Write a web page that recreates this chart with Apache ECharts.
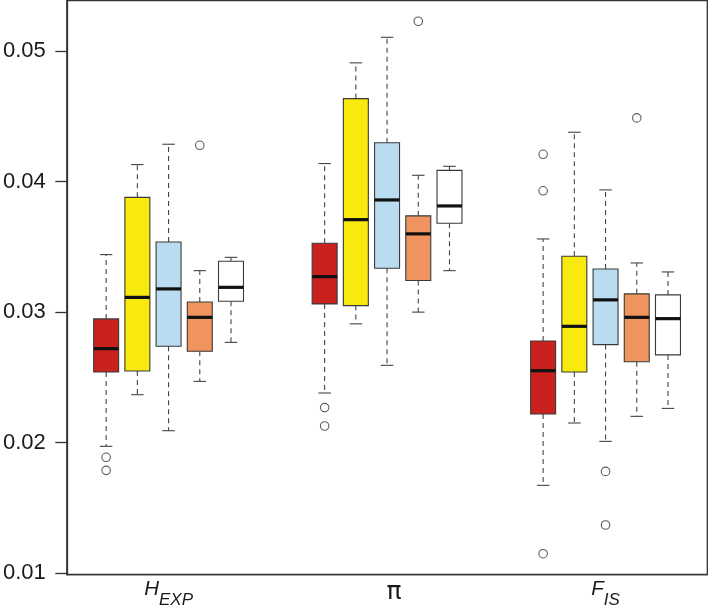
<!DOCTYPE html>
<html><head><meta charset="utf-8">
<script src="https://cdn.jsdelivr.net/npm/echarts@6/dist/echarts.min.js"></script>
<style>html,body{margin:0;padding:0;background:#fff}#c{width:709px;height:616px}</style>
</head><body><div id="c"></div>
<script>
// Group labels (main letter + subscript)
const groupMain = ['H', 'π', 'F'];
const groupSub = ['EXP', '', 'IS'];
// Five populations per group (box colours)
const boxColors = ['#C9211E', '#F8E90F', '#B9DCF0', '#F0945F', '#FFFFFF'];
// Stats per population: [lowerWhisker, Q1, median, Q3, upperWhisker]
const hexpStats = [
  [0.01971, 0.02541, 0.0272, 0.02948, 0.03441],
  [0.02367, 0.02549, 0.03113, 0.0388, 0.04131],
  [0.02091, 0.02738, 0.03178, 0.03538, 0.04287],
  [0.02469, 0.0270, 0.0296, 0.03078, 0.03318],
  [0.02768, 0.03083, 0.0319, 0.0339, 0.0342]
];
const piStats = [
  [0.0238, 0.03063, 0.03272, 0.03528, 0.04139],
  [0.0291, 0.0305, 0.03709, 0.04637, 0.04911],
  [0.02592, 0.03336, 0.0386, 0.04298, 0.05107],
  [0.0300, 0.03242, 0.0360, 0.03738, 0.04049],
  [0.03318, 0.03681, 0.03814, 0.04087, 0.04118]
];
const fisStats = [
  [0.01672, 0.02219, 0.02551, 0.02779, 0.03561],
  [0.0215, 0.02541, 0.02891, 0.03428, 0.04379],
  [0.02009, 0.02751, 0.03094, 0.03331, 0.03937],
  [0.02201, 0.0262, 0.0296, 0.0314, 0.03377],
  [0.02262, 0.02672, 0.0295, 0.03132, 0.03308]
];
// Outliers: [populationIndex, value]
const hexpOutliers = [[0, 0.01887], [0, 0.01787], [3, 0.04279]];
const piOutliers = [[0, 0.02268], [0, 0.02127], [3, 0.0523]];
const fisOutliers = [[0, 0.0421], [0, 0.0393], [0, 0.01148], [2, 0.01779], [2, 0.01368], [3, 0.04489]];
// Y tick labels
const yTicks = [0.01, 0.02, 0.03, 0.04, 0.05];

const allStats = [hexpStats, piStats, fisStats];
const allOutliers = [hexpOutliers, piOutliers, fisOutliers];
const groupCenters = [3, 10, 17];
const xMin = -0.26, xMax = 20.26;
const pos = (g, p) => 1 + g * 7 + p;

const boxData = [];
allStats.forEach((st, g) => st.forEach((s, p) => boxData.push([pos(g, p)].concat(s).concat([p]))));
const outData = [];
allOutliers.forEach((os, g) => os.forEach(o => outData.push([pos(g, o[0]), o[1]])));

const chart = echarts.init(document.getElementById('c'), null, {renderer: 'canvas'});
chart.setOption({
  animation: false,
  grid: {left: 66.5, right: 1.7, top: 0.5, bottom: 41.3, show: true, borderColor: '#333', borderWidth: 1.3},
  xAxis: {
    type: 'value', min: xMin, max: xMax,
    splitLine: {show: false},
    axisLine: {show: true, onZero: false, lineStyle: {color: '#333', width: 1.3}},
    axisTick: {show: false},
    axisLabel: {
      customValues: groupCenters,
      margin: 5,
      formatter: function (v) {
        const g = groupCenters.indexOf(v);
        if (g < 0) return '';
        if (g === 1) return '{pi|' + groupMain[g] + '}';
        return '{m|' + groupMain[g] + '}{s|' + groupSub[g] + '}';
      },
      rich: {
        m: {fontSize: 20.5, fontStyle: 'italic', fontFamily: 'Liberation Sans, Arial', color: '#1a1a1a', verticalAlign: 'top', lineHeight: 22},
        s: {fontSize: 17, fontStyle: 'italic', fontFamily: 'Liberation Sans, Arial', color: '#1a1a1a', verticalAlign: 'top', padding: [12, 0, 0, 0], lineHeight: 19},
        pi: {fontSize: 25, fontFamily: 'DejaVu Sans', color: '#1a1a1a', padding: [0, 0, 0, 14], lineHeight: 26, verticalAlign: 'top'}
      }
    }
  },
  yAxis: {
    type: 'value', min: 0.00987, max: 0.05389,
    splitLine: {show: false},
    axisLine: {show: true, onZero: false, lineStyle: {color: '#333', width: 1.3}},
    axisTick: {show: true, inside: false, customValues: yTicks, length: 11.5, lineStyle: {color: '#333', width: 1.3}},
    axisLabel: {
      customValues: yTicks, margin: 21,
      fontSize: 22, fontFamily: 'Liberation Sans, Arial', color: '#1a1a1a',
      formatter: v => v.toFixed(2)
    }
  },
  series: [
    {
      type: 'custom',
      data: boxData,
      encode: {x: 0, y: [1, 2, 3, 4, 5]},
      renderItem: function (params, api) {
        const x = api.value(0);
        const lo = api.coord([x, api.value(1)]);
        const q1 = api.coord([x, api.value(2)]);
        const md = api.coord([x, api.value(3)]);
        const q3 = api.coord([x, api.value(4)]);
        const hi = api.coord([x, api.value(5)]);
        const w = api.size([0.8, 0])[0];
        const cw = w / 2;
        const cx = lo[0];
        const col = boxColors[api.value(6)];
        const dash = {stroke: '#444', lineWidth: 1.1, lineDash: [5, 4]};
        const solid = {stroke: '#444', lineWidth: 1.1};
        return {
          type: 'group',
          children: [
            {type: 'line', shape: {x1: cx, y1: q3[1], x2: cx, y2: hi[1]}, style: dash},
            {type: 'line', shape: {x1: cx, y1: q1[1], x2: cx, y2: lo[1]}, style: dash},
            {type: 'line', shape: {x1: cx - cw / 2, y1: hi[1], x2: cx + cw / 2, y2: hi[1]}, style: solid},
            {type: 'line', shape: {x1: cx - cw / 2, y1: lo[1], x2: cx + cw / 2, y2: lo[1]}, style: solid},
            {type: 'rect', shape: {x: cx - w / 2, y: q3[1], width: w, height: q1[1] - q3[1]}, style: {fill: col, stroke: '#3a3a3a', lineWidth: 1.1}},
            {type: 'line', shape: {x1: cx - w / 2, y1: md[1], x2: cx + w / 2, y2: md[1]}, style: {stroke: '#111', lineWidth: 3.2}}
          ]
        };
      }
    },
    {
      type: 'scatter',
      data: outData,
      symbol: 'circle',
      symbolSize: 8.5,
      itemStyle: {color: 'rgba(0,0,0,0)', borderColor: '#333', borderWidth: 1.1}
    }
  ]
});
</script></body></html>
